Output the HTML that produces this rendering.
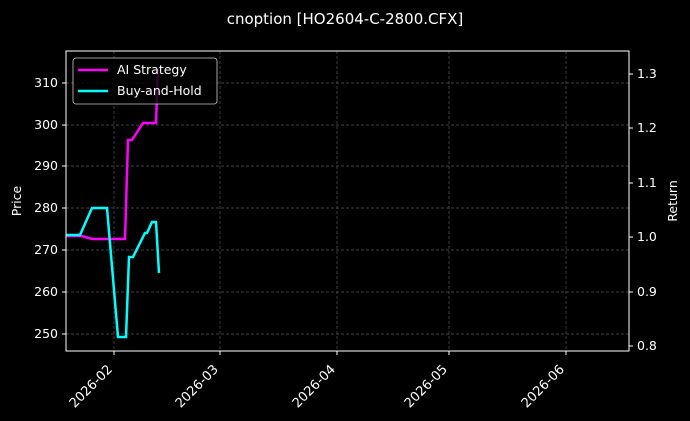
<!DOCTYPE html>
<html><head><meta charset="utf-8"><style>
html,body{margin:0;padding:0;background:#000;}
svg{display:block;font-family:"DejaVu Sans","Liberation Sans",sans-serif;}
</style></head><body>
<svg width="690" height="421" viewBox="0 0 690 421" xmlns="http://www.w3.org/2000/svg">
<rect width="690" height="421" fill="#000"/>
<text x="345" y="24" fill="#fff" font-size="15" text-anchor="middle">cnoption [HO2604-C-2800.CFX]</text>
<g stroke="#555" stroke-width="0.7" stroke-dasharray="3,2">
<line x1="114" y1="51" x2="114" y2="351"/><line x1="220" y1="51" x2="220" y2="351"/>
<line x1="337" y1="51" x2="337" y2="351"/><line x1="449" y1="51" x2="449" y2="351"/>
<line x1="566" y1="51" x2="566" y2="351"/>
<line x1="66" y1="83" x2="629" y2="83"/><line x1="66" y1="125" x2="629" y2="125"/>
<line x1="66" y1="166" x2="629" y2="166"/><line x1="66" y1="208" x2="629" y2="208"/>
<line x1="66" y1="250" x2="629" y2="250"/><line x1="66" y1="292" x2="629" y2="292"/>
<line x1="66" y1="334" x2="629" y2="334"/>
</g>
<polyline fill="none" stroke="#ff00ff" stroke-width="2.5" points="66,236 82,236 92,239 125,239 128,140 132,140 143,123 156,123 158,68"/>
<polyline fill="none" stroke="#00ffff" stroke-width="2.5" points="66,235 80,235 92,208 107,208 118,337 126,337 129,257 133,257 145,233 147,233 152,222 156,222 159,273"/>
<rect x="66" y="51" width="563" height="300" fill="none" stroke="#fff" stroke-width="1"/>
<g fill="#fff" font-size="12.5" text-anchor="end">
<text x="58" y="87">310</text><text x="58" y="129">300</text><text x="58" y="170">290</text>
<text x="58" y="212">280</text><text x="58" y="254">270</text><text x="58" y="296">260</text>
<text x="58" y="338">250</text>
</g>
<g stroke="#fff"><line x1="62" y1="83" x2="66" y2="83"/><line x1="62" y1="125" x2="66" y2="125"/><line x1="62" y1="166" x2="66" y2="166"/><line x1="62" y1="208" x2="66" y2="208"/><line x1="62" y1="250" x2="66" y2="250"/><line x1="62" y1="292" x2="66" y2="292"/><line x1="62" y1="334" x2="66" y2="334"/>
<line x1="629" y1="74" x2="633" y2="74"/><line x1="629" y1="128" x2="633" y2="128"/><line x1="629" y1="183" x2="633" y2="183"/><line x1="629" y1="237" x2="633" y2="237"/><line x1="629" y1="292" x2="633" y2="292"/><line x1="629" y1="346" x2="633" y2="346"/>
<line x1="114" y1="351" x2="114" y2="355"/><line x1="220" y1="351" x2="220" y2="355"/><line x1="337" y1="351" x2="337" y2="355"/><line x1="449" y1="351" x2="449" y2="355"/><line x1="566" y1="351" x2="566" y2="355"/></g>
<g fill="#fff" font-size="12.5">
<text x="637" y="78">1.3</text><text x="637" y="132">1.2</text><text x="637" y="187">1.1</text>
<text x="637" y="241">1.0</text><text x="637" y="296">0.9</text><text x="637" y="350">0.8</text>
</g>
<g fill="#fff" font-size="13" text-anchor="end">
<text transform="translate(113,370) rotate(-45)">2026-02</text>
<text transform="translate(219,370) rotate(-45)">2026-03</text>
<text transform="translate(336,370) rotate(-45)">2026-04</text>
<text transform="translate(448,370) rotate(-45)">2026-05</text>
<text transform="translate(565,370) rotate(-45)">2026-06</text>
</g>
<text transform="translate(21,201) rotate(-90)" fill="#fff" font-size="12.5" text-anchor="middle">Price</text>
<text transform="translate(677,201) rotate(-90)" fill="#fff" font-size="12.5" text-anchor="middle">Return</text>
<rect x="73" y="58" width="144" height="46" rx="3" fill="#000" fill-opacity="0.8" stroke="#ccc" stroke-width="0.8"/>
<line x1="78" y1="70" x2="108" y2="70" stroke="#ff00ff" stroke-width="2.5"/>
<line x1="78" y1="91" x2="108" y2="91" stroke="#00ffff" stroke-width="2.5"/>
<g fill="#fff" font-size="12.5"><text x="117" y="74">AI Strategy</text><text x="117" y="95">Buy-and-Hold</text></g>
</svg>
</body></html>
